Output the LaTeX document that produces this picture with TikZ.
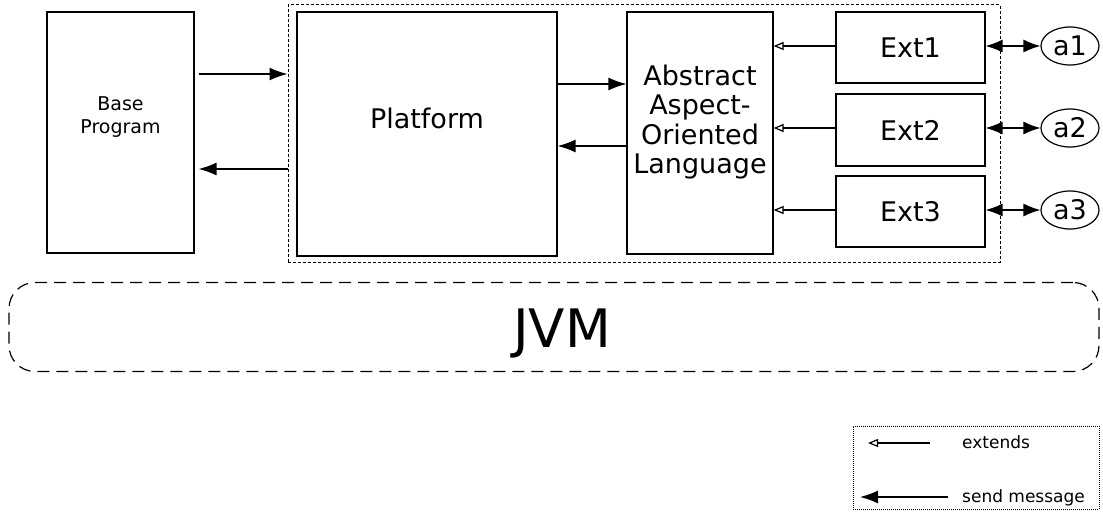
\documentclass[tikz,border=0pt]{standalone}
\usepackage{fontspec}
\setmainfont{DejaVu Sans}
\usetikzlibrary{arrows.meta}
\usetikzlibrary{shapes.geometric}

\tikzset{
  box/.style={draw, line width=1.2pt, inner sep=0pt, align=center},
  frame/.style={draw, line width=1pt, dash pattern=on 3pt off 2pt},
  legendbox/.style={draw, line width=1pt, dash pattern=on 1pt off 1pt},
  jvmbox/.style={draw, line width=1.2pt, dash pattern=on 12pt off 7pt, rounded corners=26pt},
  actor/.style={draw, ellipse, line width=1.2pt, minimum width=58pt, minimum height=38pt, inner sep=0pt},
  send/.style={line width=1.3pt, -{Latex[length=18pt,width=13pt]}},
  extends/.style={line width=1.2pt, -{Triangle[open,length=10pt,width=8pt]}},
  talk/.style={line width=1.3pt, {Latex[length=17pt,width=13pt]}-{Latex[length=17pt,width=13pt]}},
  small/.style={font=\fontsize{19}{23}\selectfont, align=center},
  big/.style={font=\fontsize{27}{29.3}\selectfont, align=center},
  note/.style={font=\fontsize{17}{17}\selectfont},
}

\begin{document}
\begin{tikzpicture}[x=1pt,y=-1pt]
    \useasboundingbox (0,0) rectangle (1103,519);

    \node[frame, minimum width=712, minimum height=257] (frame) at (644,133.5) {};

    \node[box, minimum width=147, minimum height=241] (base) at (120.5,132.5) {};
    \node[box, minimum width=260, minimum height=244] (platform) at (427,134) {};
    \node[box, minimum width=146, minimum height=242] (aaol) at (700,133) {};
    \node[box, minimum width=149, minimum height=71] (ext1) at (910.5,47.5) {};
    \node[box, minimum width=149, minimum height=72] (ext2) at (910.5,130) {};
    \node[box, minimum width=149, minimum height=71] (ext3) at (910.5,211.5) {};

    \node[small] (baselbl) at ([yshift=15pt]base.center) {Base\\Program};
    \node[big] (platformlbl) at ([yshift=16pt]platform.center) {Platform};
    \node[big] (aaollbl) at ([yshift=11pt]aaol.center) {Abstract\\Aspect-\\Oriented\\Language};
    \node[big] (ext1lbl) at (ext1.center) {Ext1};
    \node[big] (ext2lbl) at (ext2.center) {Ext2};
    \node[big] (ext3lbl) at (ext3.center) {Ext3};

    \node[actor, font=\fontsize{27}{27}\selectfont] (a1) at (1070,46) {a1};
    \node[actor, font=\fontsize{27}{27}\selectfont] (a2) at (1070,128) {a2};
    \node[actor, font=\fontsize{27}{27}\selectfont] (a3) at (1070,210) {a3};

    \draw[send] ([xshift=4pt]base.east |- 0,74) -- (frame.west |- 0,74);
    \draw[send] (frame.west |- 0,169) -- ([xshift=4pt]base.east |- 0,169);
    \draw[send] (platform.east |- 0,84) -- (aaol.west |- 0,84);
    \draw[send] (aaol.west |- 0,146) -- (platform.east |- 0,146);

    \draw[extends] (ext1.west |- a1) -- (aaol.east |- a1);
    \draw[extends] (ext2.west |- a2) -- (aaol.east |- a2);
    \draw[extends] (ext3.west |- a3) -- (aaol.east |- a3);

    \draw[talk] (ext1.east |- a1) -- (a1.west);
    \draw[talk] (ext2.east |- a2) -- (a2.west);
    \draw[talk] (ext3.east |- a3) -- (a3.west);

    \node[jvmbox, minimum width=1090, minimum height=89] (jvm) at (554,327) {};
    \node[font=\fontsize{53}{53}\selectfont, anchor=base] (jvmlbl) at (562,347) {JVM};

    % legend
    \node[legendbox, minimum width=246, minimum height=83] (legend) at (976,467.5) {};
    \coordinate (ext-a) at (930,443);
    \coordinate (ext-b) at (868,443);
    \coordinate (send-a) at (948,497);
    \coordinate (send-b) at (860,497);
    \draw[extends] (ext-a) -- (ext-b);
    \draw[send] (send-a) -- (send-b);
    \node[note, anchor=base west, inner sep=0pt] (extlbl) at (962,448) {extends};
    \node[note, anchor=base west, inner sep=0pt] (sendlbl) at (962,502) {send message};
\end{tikzpicture}
\end{document}
